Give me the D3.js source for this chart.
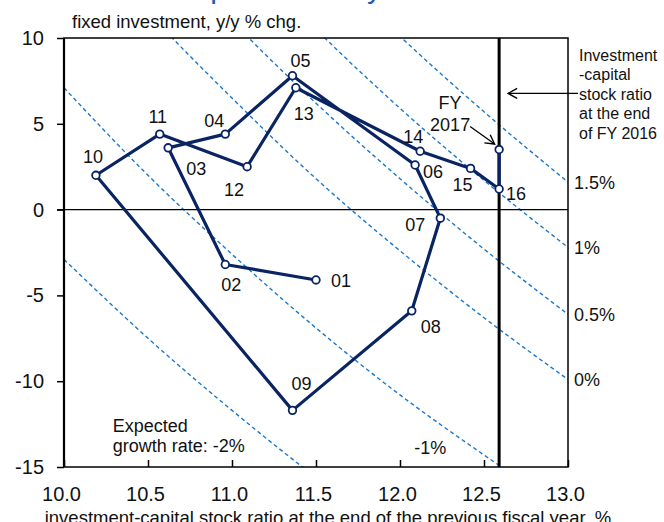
<!DOCTYPE html>
<meta charset="utf-8">
<style>

body {
  margin: 0;
  background: #fff;
  font-family: "Liberation Sans", Arial, sans-serif;
}

svg text { fill: #111; }
.axis path { display: none; }
.axis line { stroke: #000; stroke-width: 1.5px; }
.axis text { font-size: 20px; fill: #111; }
.guide { fill: none; stroke: #1a78cc; stroke-width: 1.4px; stroke-dasharray: 4,3; }
.cycle { fill: none; stroke: #0a2463; stroke-width: 3.2px; stroke-linejoin: round; }
.dot { fill: #fff; stroke: #0a2463; stroke-width: 1.8px; }
.lbl { font-size: 18px; }
.note { font-size: 18px; }

</style>
<body>
<script src="https://d3js.org/d3.v7.min.js"></script>
<script>

// fiscal years, ratio at end of previous FY (%), investment y/y (%)
var years = ["01","02","03","04","05","06","07","08","09","10","11","12","13","14","15","16","FY2017"];
var ikRatio = [11.50, 10.96, 10.62, 10.96, 11.36, 12.09, 12.24, 12.07, 11.36, 10.19, 10.57, 11.09, 11.38, 12.12, 12.42, 12.59, 12.59];
var invGrowth = [-4.1, -3.2, 3.6, 4.4, 7.8, 2.6, -0.5, -5.9, -11.7, 2.0, 4.4, 2.5, 7.1, 3.4, 2.4, 1.2, 3.5];

// expected growth rate guide curves, read at these x values
var guideX = [10, 10.5, 11, 11.5, 12, 12.5, 13];
var guideRates = ["-2%", "-1%", "0%", "0.5%", "1%", "1.5%"];
var guideM2 = [-2.9, -7.5, -11.7, -15.6, -19.1, -22.3, -25.3];
var guideM1 = [7.1, 2.0, -2.6, -6.9, -10.8, -14.3, -17.6];
var guide0 = [17.1, 11.5, 6.5, 1.8, -2.4, -6.3, -9.9];
var guide05 = [22.1, 16.3, 11.0, 6.2, 1.8, -2.3, -6.1];
var guide1 = [27.1, 21.0, 15.5, 10.5, 5.9, 1.7, -2.2];
var guide15 = [32.1, 25.8, 20.1, 14.9, 10.1, 5.7, 1.6];

var xTicks = [10.0, 10.5, 11.0, 11.5, 12.0, 12.5, 13.0];
var yTicks = [-15, -10, -5, 0, 5, 10];

// label offsets in px from each point (layout only)
var labelOffsets = {
  "01": [25, 1], "02": [6, 20], "03": [28, 21], "04": [-11, -14], "05": [8, -15],
  "06": [18, 7], "07": [-25, 6], "08": [19, 16], "09": [9, -27], "10": [-3, -19],
  "11": [-2, -18], "12": [-13, 23], "13": [8, 26], "14": [-7, -15], "15": [-8, 16],
  "16": [17, 5]
};

var width = 664, height = 522;

var x = d3.scaleLinear().domain([10, 13]).range([64, 568]);
var y = d3.scaleLinear().domain([-15, 10]).range([467, 38]);

var svg = d3.select("body").append("svg")
    .attr("width", width)
    .attr("height", height);

var defs = svg.append("defs");
defs.append("clipPath").attr("id", "plot")
  .append("rect")
    .attr("x", x(10)).attr("y", y(10))
    .attr("width", x(13) - x(10)).attr("height", y(-15) - y(10));

defs.append("marker")
    .attr("id", "arrow")
    .attr("markerUnits", "userSpaceOnUse")
    .attr("viewBox", "-10 -6 12 12")
    .attr("markerWidth", 12).attr("markerHeight", 12)
    .attr("refX", 0).attr("refY", 0)
    .attr("orient", "auto")
  .append("path")
    .attr("d", "M-9,-5L0,0L-9,5")
    .attr("fill", "none")
    .attr("stroke", "#000")
    .attr("stroke-width", 1.4);

// cut-off chart title (only descenders visible)
svg.append("text")
    .attr("x", 172).attr("y", -2)
    .style("font-size", "30px")
    .style("fill", "#1f5fa8")
    .text("Capital stock cycle");

// guides
var guides = [guideM2, guideM1, guide0, guide05, guide1, guide15];
var guideLine = d3.line()
    .x(function(d, i) { return x(guideX[i]); })
    .y(function(d) { return y(d); })
    .curve(d3.curveMonotoneX);

svg.append("g").attr("clip-path", "url(#plot)")
  .selectAll("path")
    .data(guides)
  .enter().append("path")
    .attr("class", "guide")
    .attr("d", guideLine);

// right-edge guide labels (0% .. 1.5%)
svg.append("g").selectAll("text")
    .data(guides.slice(2))
  .enter().append("text")
    .attr("class", "note")
    .attr("x", x(13) + 6)
    .attr("y", function(d) { return y(d[d.length - 1]); })
    .attr("dy", "0.38em")
    .text(function(d, i) { return guideRates[i + 2]; });

svg.append("text").attr("class", "note")
    .attr("x", x(12.18)).attr("y", y(-13.9)).attr("dy", "0.35em")
    .style("text-anchor", "middle")
    .text(guideRates[1]);

svg.append("text").attr("class", "note")
    .attr("x", x(10.29)).attr("y", y(-12.94))
    .text("Expected")
  .append("tspan")
    .attr("x", x(10.29)).attr("dy", 20)
    .text("growth rate: " + guideRates[0]);

// zero line
svg.append("line")
    .attr("x1", x(10) - 7).attr("x2", x(13))
    .attr("y1", y(0)).attr("y2", y(0))
    .attr("stroke", "#000").attr("stroke-width", 1.4);

// axes
svg.append("g")
    .attr("class", "axis")
    .attr("transform", "translate(0," + y(-15) + ")")
    .call(d3.axisBottom(x).tickValues(xTicks).tickFormat(d3.format(".1f"))
      .tickSizeInner(-7).tickSizeOuter(0).tickPadding(20))
  .selectAll("text").attr("dx", -3);

svg.append("g")
    .attr("class", "axis")
    .attr("transform", "translate(" + x(10) + ",0)")
    .call(d3.axisLeft(y).tickValues(yTicks).tickSize(7).tickPadding(13)
      .tickFormat(function(d) { return String(d); }));

// frame
svg.append("rect")
    .attr("x", x(10)).attr("y", y(10))
    .attr("width", x(13) - x(10)).attr("height", y(-15) - y(10))
    .attr("fill", "none").attr("stroke", "#000").attr("stroke-width", 1.5);
svg.append("line")
    .attr("x1", x(10)).attr("x2", x(10))
    .attr("y1", y(10)).attr("y2", y(-15))
    .attr("stroke", "#000").attr("stroke-width", 2.2);

// FY2016 ratio line
var fy16 = ikRatio[15];
svg.append("line")
    .attr("x1", x(fy16)).attr("x2", x(fy16))
    .attr("y1", y(10)).attr("y2", y(-15))
    .attr("stroke", "#000").attr("stroke-width", 3);

// axis titles
svg.append("text")
    .attr("x", 72).attr("y", 28)
    .style("font-size", "18.5px")
    .text("fixed investment, y/y % chg.");

svg.append("text")
    .attr("x", 328).attr("y", 524)
    .style("font-size", "18.5px")
    .style("text-anchor", "middle")
    .text("investment-capital stock ratio at the end of the previous fiscal year, %");

// cycle path
var pts = years.map(function(d, i) { return {year: d, x: ikRatio[i], y: invGrowth[i]}; });

svg.append("path")
    .datum(pts)
    .attr("class", "cycle")
    .attr("d", d3.line().x(function(d) { return x(d.x); }).y(function(d) { return y(d.y); }));

svg.append("g").selectAll("circle")
    .data(pts)
  .enter().append("circle")
    .attr("class", "dot")
    .attr("r", 3.8)
    .attr("cx", function(d) { return x(d.x); })
    .attr("cy", function(d) { return y(d.y); });

svg.append("g").selectAll("text")
    .data(pts.filter(function(d) { return labelOffsets[d.year]; }))
  .enter().append("text")
    .attr("class", "lbl")
    .style("text-anchor", "middle")
    .attr("dy", "0.36em")
    .attr("x", function(d) { return x(d.x) + labelOffsets[d.year][0]; })
    .attr("y", function(d) { return y(d.y) + labelOffsets[d.year][1]; })
    .text(function(d) { return d.year; });

// FY2017 callout
var last = pts[pts.length - 1];
var lx = x(last.x), ly = y(last.y);
svg.append("text").attr("class", "note")
    .style("text-anchor", "middle")
    .attr("x", lx - 49).attr("y", ly - 40.7)
    .text("FY");
svg.append("text").attr("class", "note")
    .style("text-anchor", "middle")
    .attr("x", lx - 49).attr("y", ly - 19)
    .text("2017");
svg.append("line")
    .attr("x1", lx - 29).attr("y1", ly - 23)
    .attr("x2", lx - 4.5).attr("y2", ly - 5.5)
    .attr("stroke", "#000").attr("stroke-width", 1.3)
    .attr("marker-end", "url(#arrow)");

// FY2016 ratio note
var note = svg.append("text")
    .attr("x", x(13) + 11).attr("y", 61)
    .style("font-size", "16px");
["Investment", "-capital", "stock ratio", "at the end", "of FY 2016"].forEach(function(t, i) {
  note.append("tspan").attr("x", x(13) + 11).attr("dy", i ? 19.4 : 0).text(t);
});
svg.append("line")
    .attr("x1", x(13) + 10).attr("y1", y(6.77))
    .attr("x2", x(fy16) + 9).attr("y2", y(6.77))
    .attr("stroke", "#000").attr("stroke-width", 1.3)
    .attr("marker-end", "url(#arrow)");

</script>
